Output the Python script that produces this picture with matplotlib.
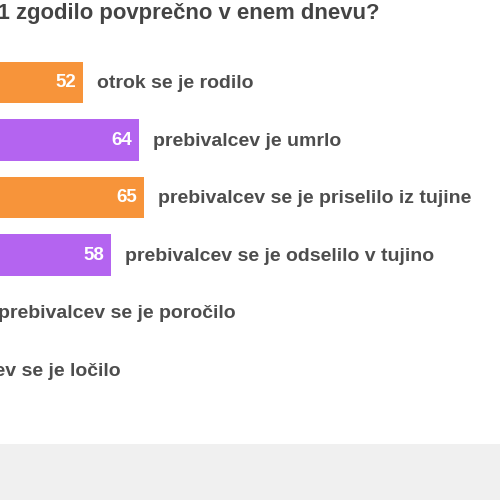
import matplotlib.pyplot as plt
from matplotlib.patches import Rectangle

plt.rcParams['font.family'] = ['Liberation Sans', 'DejaVu Sans']

values = [52, 64, 65, 58, 31, 12]
labels = ["otrok se je rodilo",
          "prebivalcev je umrlo",
          "prebivalcev se je priselilo iz tujine",
          "prebivalcev se je odselilo v tujino",
          "prebivalcev se je poročilo",
          "prebivalcev se je ločilo"]
colors = ["#f7943a", "#b464f0", "#f7943a", "#b464f0", "#f7943a", "#b464f0"]
title = "Kaj se je v Sloveniji v letu 2021 zgodilo povprečno v enem dnevu?"

txt = "#4d4d4d"

fig = plt.figure(figsize=(5, 5), dpi=100)
fig.patch.set_facecolor("white")
fig.patches.append(Rectangle((0, 0), 1, 56 / 500, transform=fig.transFigure,
                             facecolor="#f0f0f0", edgecolor="none", zorder=0))

ax = fig.add_axes([0, 0, 1, 1])
ax.set_facecolor("none")
ypos = list(range(len(values)))
ax.barh(ypos, values, height=0.72, color=colors, zorder=2)
for y, v, lab in zip(ypos, values, labels):
    ax.text(v - 1.5, y, str(v), ha="right", va="center", color="white",
            fontsize=13.5, fontweight="bold", zorder=3)
    ax.text(v + 2.9, y + 0.02, lab, ha="left", va="center", color=txt,
            fontsize=14, fontweight="bold", zorder=3)

ax.set_xlim(34.3, 140.9)
ax.set_ylim(7.26, -1.435)
ax.axis("off")

fig.text(380 / 500, 1 - 14 / 500, title, ha="right", va="center",
         color="#444444", fontsize=15.9, fontweight="bold")

fig.savefig("out.png", dpi=100)
